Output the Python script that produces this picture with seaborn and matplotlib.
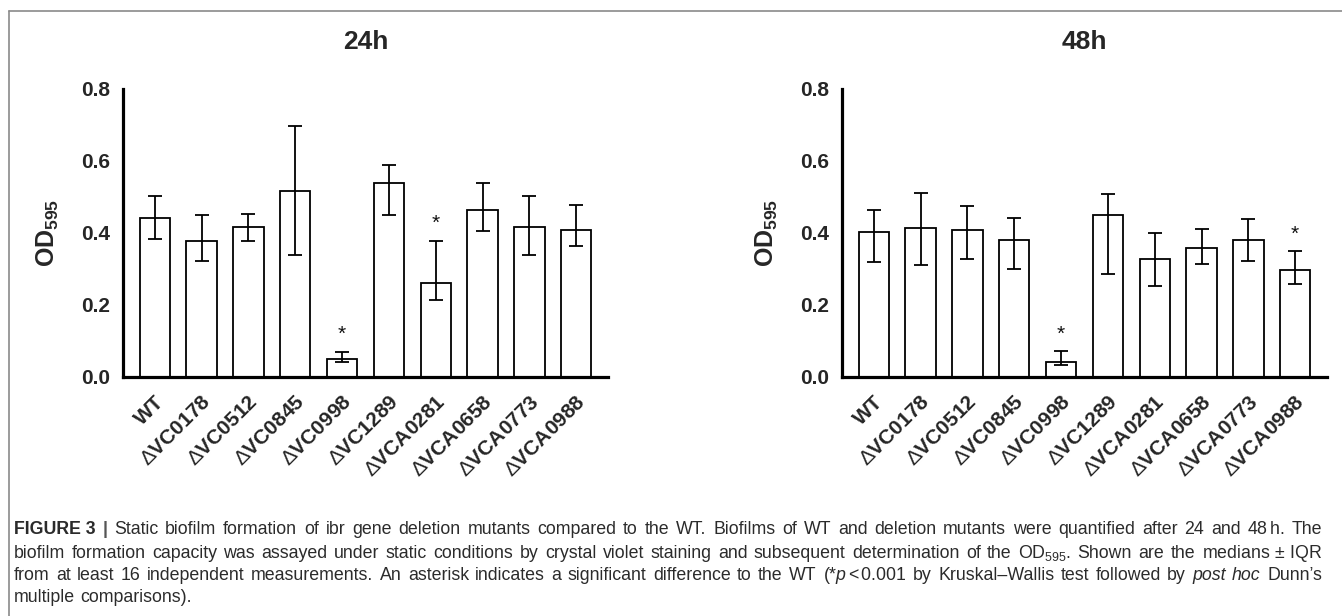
import numpy as np
import pandas as pd
import matplotlib
matplotlib.use("Agg")
import matplotlib.pyplot as plt
from matplotlib.lines import Line2D
import seaborn as sns

# ---------------- data ----------------
strains = ["WT", "ΔVC0178", "ΔVC0512", "ΔVC0845", "ΔVC0998", "ΔVC1289",
           "ΔVCA0281", "ΔVCA0658", "ΔVCA0773", "ΔVCA0988"]

med_24 = [0.443, 0.378, 0.418, 0.517, 0.051, 0.539, 0.261, 0.463, 0.416, 0.408]
q1_24 = [0.384, 0.323, 0.378, 0.339, 0.041, 0.451, 0.213, 0.406, 0.338, 0.364]
q3_24 = [0.504, 0.451, 0.453, 0.696, 0.070, 0.590, 0.379, 0.540, 0.504, 0.478]

med_48 = [0.402, 0.415, 0.407, 0.381, 0.042, 0.449, 0.328, 0.357, 0.381, 0.296]
q1_48 = [0.320, 0.312, 0.329, 0.300, 0.032, 0.287, 0.252, 0.314, 0.323, 0.259]
q3_48 = [0.465, 0.510, 0.476, 0.443, 0.071, 0.508, 0.399, 0.412, 0.439, 0.349]

sig_24 = ["ΔVC0998", "ΔVCA0281"]
sig_48 = ["ΔVC0998", "ΔVCA0988"]

titles = ["24h", "48h"]
y_ticks = [0.0, 0.2, 0.4, 0.6, 0.8]

# ---------------- style ----------------
sns.set_style("white")
plt.rcParams["font.family"] = ["Liberation Sans", "DejaVu Sans"]
plt.rcParams["mathtext.fontset"] = "custom"
plt.rcParams["mathtext.rm"] = "Liberation Sans"
plt.rcParams["mathtext.it"] = "Liberation Sans:italic"
plt.rcParams["mathtext.bf"] = "Liberation Sans:bold"

W, H = 1342, 616
fig = plt.figure(figsize=(W / 100, H / 100), dpi=100)
fig.patch.set_facecolor("white")

panels = [(123, 608), (842, 1327)]
y_bottom_px, y_top_px = 377, 89

datasets = [(med_24, q1_24, q3_24, sig_24), (med_48, q1_48, q3_48, sig_48)]

# display labels: thin (regular-weight) delta sign as in the original
disp_labels = [s.replace("Δ", r"$\Delta$") for s in strains]

for (xl, xr), (med, q1, q3, sig), title in zip(panels, datasets, titles):
    ax = fig.add_axes([xl / W, (H - y_bottom_px) / H, (xr - xl) / W,
                       (y_bottom_px - y_top_px) / H])
    df = pd.DataFrame({"strain": strains, "od": med, "q1": q1, "q3": q3})
    sns.barplot(data=df, x="strain", y="od", order=strains, ax=ax,
                color="white", saturation=1, edgecolor="black",
                linewidth=1.3, width=0.65, errorbar=None)
    xs = np.arange(len(strains))
    m = df["od"].to_numpy()
    ax.errorbar(xs, m, yerr=[m - df["q1"].to_numpy(), df["q3"].to_numpy() - m],
                fmt="none", ecolor="black", elinewidth=1.3, capsize=4.8,
                capthick=1.3, zorder=3)
    for s in sig:
        i = strains.index(s)
        ax.text(i, q3[i] + 0.022, "*", ha="center", va="bottom",
                fontsize=15, color="#111111")

    ax.set_xlim(-0.68, 9.68)
    ax.set_ylim(0, 0.8)
    ax.set_yticks(y_ticks)
    ax.set_yticklabels([f"{v:.1f}" for v in y_ticks], fontsize=15,
                       fontweight="bold")
    ax.set_xticks(xs)
    ax.set_xticklabels(disp_labels, rotation=45, ha="right",
                       rotation_mode="anchor", fontsize=15, fontweight="bold")
    ax.tick_params(axis="both", length=6, width=2.2, color="black",
                   direction="out", pad=3)
    ax.tick_params(axis="x", pad=5)
    for side in ["top", "right"]:
        ax.spines[side].set_visible(False)
    for side in ["left", "bottom"]:
        ax.spines[side].set_linewidth(2.3)
        ax.spines[side].set_color("black")
    ax.set_xlabel("")
    ax.set_ylabel(r"$\mathbf{OD_{595}}$", fontsize=18)
    ax.yaxis.set_label_coords(-0.128, 0.5)
    ax.set_title(title, fontsize=19, fontweight="bold", pad=29)
    ax.set_facecolor("white")

# ---------------- frame ----------------
fy = 1 - 11 / H
fx = 9 / W
fig.add_artist(Line2D([fx, 1], [fy, fy], transform=fig.transFigure,
                      color="#8a8a8a", lw=1.2))
fig.add_artist(Line2D([fx, fx], [0, fy], transform=fig.transFigure,
                      color="#8a8a8a", lw=1.2))

# ---------------- caption (justified) ----------------
cap_color = "#2b2b2b"
cap_size = 12.8
NORM = {}
BOLD = {"fontweight": "bold"}
ITAL = {"style": "italic"}

lines = [
    [("FIGURE 3", BOLD), ("|", {"fontweight": "bold", "color": "#555555"}),
     ("Static", NORM), ("biofilm", NORM), ("formation", NORM), ("of", NORM),
     ("ibr", NORM), ("gene", NORM), ("deletion", NORM), ("mutants", NORM),
     ("compared", NORM), ("to", NORM), ("the", NORM), ("WT.", NORM),
     ("Biofilms", NORM), ("of", NORM), ("WT", NORM), ("and", NORM),
     ("deletion", NORM), ("mutants", NORM), ("were", NORM),
     ("quantified", NORM), ("after", NORM), ("24", NORM), ("and", NORM),
     (r"48$\,$h.", NORM), ("The", NORM)],
    [("biofilm", NORM), ("formation", NORM), ("capacity", NORM), ("was", NORM),
     ("assayed", NORM), ("under", NORM), ("static", NORM),
     ("conditions", NORM), ("by", NORM), ("crystal", NORM), ("violet", NORM),
     ("staining", NORM), ("and", NORM), ("subsequent", NORM),
     ("determination", NORM), ("of", NORM), ("the", NORM),
     (r"OD$_{595}$.", NORM), ("Shown", NORM), ("are", NORM), ("the", NORM),
     (r"medians$\,\pm\,$IQR", NORM)],
    [("from", NORM), ("at", NORM), ("least", NORM), ("16", NORM),
     ("independent", NORM), ("measurements.", NORM), ("An", NORM),
     ("asterisk", NORM), ("indicates", NORM), ("a", NORM),
     ("significant", NORM), ("difference", NORM), ("to", NORM),
     ("the", NORM), ("WT", NORM), (r"(*$p\,$<$\,$0.001", NORM), ("by", NORM),
     ("Kruskal–Wallis", NORM), ("test", NORM), ("followed", NORM),
     ("by", NORM), ("post", ITAL), ("hoc", ITAL), ("Dunn’s", NORM)],
    [("multiple", NORM), ("comparisons).", NORM)],
]
line_y = [530, 553, 576, 598]
x0_px, x1_px = 14, 1322

renderer = fig.canvas.get_renderer()
for li, (words, ypx) in enumerate(zip(lines, line_y)):
    texts = []
    for w, props in words:
        kw = dict(fontsize=cap_size, color=cap_color, va="center", ha="left")
        kw.update(props)
        texts.append(fig.text(0, 1 - ypx / H, w, **kw))
    widths = [t.get_window_extent(renderer).width for t in texts]
    normal_gap = cap_size * 100 / 72 * 0.28
    if li < len(lines) - 1:
        gap = (x1_px - x0_px - sum(widths)) / (len(texts) - 1)
        gap = max(gap, 2.0)
    else:
        gap = normal_gap
    x = x0_px
    for t, wdt in zip(texts, widths):
        t.set_x(x / W)
        x += wdt + gap

fig.savefig("out.png", dpi=100, facecolor="white")
